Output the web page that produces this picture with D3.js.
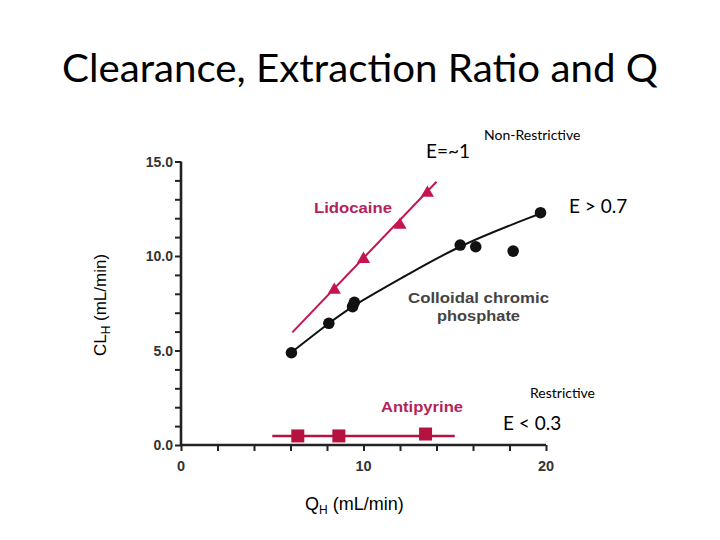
<!DOCTYPE html>
<html><head><meta charset="utf-8">
<script src="https://cdn.jsdelivr.net/npm/d3@7"></script>
<style>body{margin:0;background:#fff}svg{display:block}</style>
</head><body>
<svg id="c" width="720" height="540"></svg>
<script>
// ---- data ----
const xTicksMajor = [0, 10, 20];
const yTicksMajor = [0, 5, 10, 15];
const yTickLabels = ["0.0", "5.0", "10.0", "15.0"];
const lidocaineX = [8.4, 10.0, 12.0, 13.5];
const lidocaineY = [8.2, 9.83, 11.64, 13.33];
const lidocaineFitX = [6.1, 14.0];
const lidocaineFitY = [5.96, 13.93];
const colloidX = [6.05, 8.1, 9.4, 9.5, 15.3, 16.15, 18.2, 19.7];
const colloidY = [4.88, 6.44, 7.32, 7.55, 10.58, 10.49, 10.26, 12.29];
const colloidFitX = [6.05, 8.1, 9.45, 12.4, 15.3, 19.7];
const colloidFitY = [4.9, 6.45, 7.4, 9.0, 10.6, 12.25];
const antipyrineX = [6.4, 8.65, 13.4];
const antipyrineY = [0.48, 0.48, 0.58];
const antipyrineFitX = [5.0, 15.0];
const antipyrineFitY = [0.48, 0.48];

const svg = d3.select("#c");
const crimson = "#c4154f";
const labelCrimson = "#b2245a";
const x = d3.scaleLinear().domain([0, 20]).range([181, 546]);
const y = d3.scaleLinear().domain([0, 15]).range([445, 161.5]);

// title
svg.append("text").attr("x", 62).attr("y", 82)
  .attr("font-family", "Lato, 'Open Sans', sans-serif").attr("font-size", 38)
  .attr("textLength", 596).attr("lengthAdjust", "spacingAndGlyphs")
  .attr("fill", "#000").text("Clearance, Extraction Ratio and Q");

// axes
const ax = svg.append("g").attr("transform", `translate(0,${y(0)})`)
  .call(d3.axisBottom(x).tickValues(d3.range(0, 21, 2)).tickSize(6).tickFormat(""));
const ay = svg.append("g").attr("transform", `translate(${x(0)},0)`)
  .call(d3.axisLeft(y).tickValues(d3.range(0, 16, 1)).tickSize(6).tickFormat(""));
[ax, ay].forEach(g => {
  g.select(".domain").attr("stroke", "#222").attr("stroke-width", 2.6);
  g.selectAll(".tick line").attr("stroke", "#222").attr("stroke-width", 2);
});
ax.select(".domain").attr("d", `M${x(0)},0H${x(20)}`);
ay.select(".domain").attr("d", `M0,${y(0)}V${y(15)}`);

// tick labels
svg.append("g").selectAll("text").data(xTicksMajor).join("text")
  .attr("x", d => x(d)).attr("y", 471).attr("text-anchor", "middle")
  .attr("font-family", "'Liberation Sans', Arial, sans-serif").attr("font-weight", "bold")
  .attr("font-size", 14.5).attr("fill", "#333").text(d => d);
svg.append("g").selectAll("text").data(yTicksMajor).join("text")
  .attr("x", 173).attr("y", d => y(d) + 5).attr("text-anchor", "end")
  .attr("font-family", "'Liberation Sans', Arial, sans-serif").attr("font-weight", "bold")
  .attr("font-size", 14).attr("fill", "#333").text((d, i) => yTickLabels[i]);

// axis labels
const yl = svg.append("text").attr("transform", "translate(106,305) rotate(-90)")
  .attr("text-anchor", "middle").attr("font-family", "'Liberation Sans', Arial, sans-serif")
  .attr("font-size", 17).attr("fill", "#000");
yl.append("tspan").text("CL");
yl.append("tspan").attr("font-size", 12).attr("dy", 4).text("H");
yl.append("tspan").attr("dy", -4).text(" (mL/min)");
const xl = svg.append("text").attr("x", 305).attr("y", 510)
  .attr("font-family", "'Liberation Sans', Arial, sans-serif").attr("font-size", 18).attr("fill", "#000");
xl.append("tspan").text("Q");
xl.append("tspan").attr("font-size", 12).attr("dy", 4).text("H");
xl.append("tspan").attr("dy", -4).text(" (mL/min)");

const line = d3.line().x(d => x(d[0])).y(d => y(d[1]));

// Lidocaine
svg.append("path").datum(d3.zip(lidocaineFitX, lidocaineFitY)).attr("d", line)
  .attr("fill", "none").attr("stroke", crimson).attr("stroke-width", 2);
svg.append("g").selectAll("path").data(d3.zip(lidocaineX, lidocaineY)).join("path")
  .attr("transform", d => `translate(${x(d[0])},${y(d[1])})`)
  .attr("d", d3.symbol(d3.symbolTriangle, 75)).attr("fill", crimson);

// Colloidal chromic phosphate
svg.append("path").datum(d3.zip(colloidFitX, colloidFitY))
  .attr("d", d3.line().x(d => x(d[0])).y(d => y(d[1])).curve(d3.curveBasis))
  .attr("fill", "none").attr("stroke", "#111").attr("stroke-width", 2);
svg.append("g").selectAll("circle").data(d3.zip(colloidX, colloidY)).join("circle")
  .attr("cx", d => x(d[0])).attr("cy", d => y(d[1])).attr("r", 5.8).attr("fill", "#111");

// Antipyrine
svg.append("path").datum(d3.zip(antipyrineFitX, antipyrineFitY)).attr("d", line)
  .attr("fill", "none").attr("stroke", "#b5123f").attr("stroke-width", 2.6);
svg.append("g").selectAll("rect").data(d3.zip(antipyrineX, antipyrineY)).join("rect")
  .attr("x", d => x(d[0]) - 6.5).attr("y", d => y(d[1]) - 6.5).attr("width", 13).attr("height", 13)
  .attr("fill", "#b5123f");

// series labels
const lab = (t, x0, y0, len, col) => svg.append("text").attr("x", x0).attr("y", y0)
  .attr("font-family", "'Liberation Sans', Arial, sans-serif").attr("font-weight", "bold")
  .attr("font-size", 15.5).attr("textLength", len).attr("lengthAdjust", "spacingAndGlyphs")
  .attr("fill", col).text(t);
lab("Lidocaine", 314, 213, 78, labelCrimson);
lab("Antipyrine", 381, 412, 82, labelCrimson);
lab("Colloidal chromic", 408, 303, 141, "#444");
lab("phosphate", 437, 321, 83, "#444");

// annotations
const ann = (t, x0, y0, fs) => svg.append("text").attr("x", x0).attr("y", y0)
  .attr("font-family", "Lato, 'Open Sans', sans-serif").attr("font-size", fs).attr("fill", "#000").text(t);
ann("E=~1", 426, 158, 19);
ann("Non-Restrictive", 484, 140, 14);
ann("E > 0.7", 569, 213, 19);
ann("Restrictive", 530, 398, 14);
ann("E < 0.3", 503, 430, 19);
</script>
</body></html>
